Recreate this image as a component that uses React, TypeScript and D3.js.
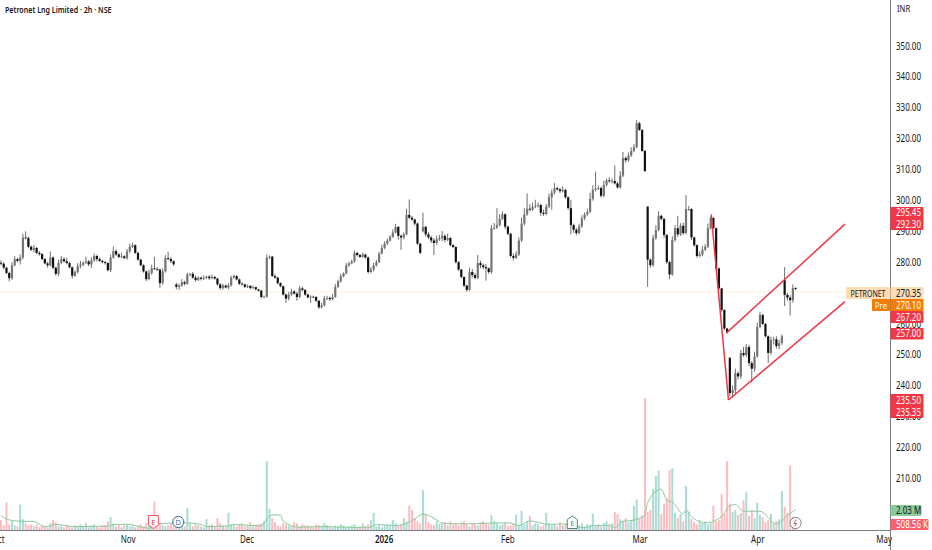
import React from "react";
import * as d3 from "d3";

const W = 932, H = 550, AX = 890, BASE = 530.5;

const closes = [
279.5,278.2,276.5,274.8,279,281,280.4,281.5,288,287.8,285,284,284.6,283,282.6,281,279.6,279,281.5,278.2,
276.2,279.8,281,280.3,279.7,278.3,275.6,276.8,278.7,279.2,279.8,280.2,279.3,280.6,282,281,280.4,280,279.7,277.4,
281.5,283.6,282.5,281.7,281.9,281.3,283.5,285,285.5,283,280.8,279,277,274.5,276.5,278,277.8,277.6,273.2,277,
281.3,281,280.3,279.3,272,272.4,273.5,273,276,276.2,275,274.2,275,274.6,274.9,275.3,274.8,275.2,274.7,272.8,
271.6,272.4,271.8,272.5,275,275.5,274.4,273,272.8,272,272.3,271.6,271.9,271.2,270.8,268.7,268.8,281.5,281.8,275.5,
275,273.2,272.2,269.5,268.2,269.5,270.5,269.8,268.7,271.5,271,269.5,268.6,268.8,268.7,267.5,265.4,266,268.2,268.4,
268,268.7,272,273.8,275.4,276.4,279,279.6,280.2,283,282.3,281.7,282.5,281.5,276.8,277.6,279,280,282.8,284.6,
286,287,288.2,289.6,291.4,288.5,288,289,295.3,294.4,293.8,292.5,286,283,291.4,289,288,287,286.2,287.4,
287.8,288.5,287.2,287.8,285.5,284.9,280,277.6,275.2,272.4,271,276.8,275.8,274.9,279.7,279,278.4,278,276.8,291,
291.2,292,294,295.5,291.5,289.2,282,281.4,282.5,287,292.5,295.5,297.3,297,297.9,298.2,298.5,296,295.6,298,
301,302.5,304,303.6,303,303.4,301,297.5,292,290.5,289.4,291.6,294.2,295.5,296.3,300.5,303.4,303.8,304,301.5,
305,306.5,306.2,306.3,305.5,304.2,308,313.7,313,314.5,316,317.2,325,322.8,316,309.5,280.8,279,287.8,290.4,
295,294,288.8,280,276,287.2,291,289,291.8,289.4,297.2,297.2,288,285.5,282,282.5,284,285,291,294.3,
291,278,271.5,264.5,258.5,257.2,237.6,238.6,244,243,250.6,249.9,252.5,247.3,245.5,249.5,259,262.9,260,256,
250.6,254.8,255,252.8,253.8,256,269.4,268.5,267.7,271.6,271.3];

const gapOpens: Record<number, number> = { 64: 272.8, 154: 290, 236: 298, 266: 249, 286: 274.2 };

const wickUp = [
.8,.5,.3,.4,1,1,.5,1,1.2,2,.5,.4,1,.3,.6,.4,.3,.5,2,.4,
.3,1,1,.6,1.2,.4,.3,.5,1,1.2,.4,1.6,.5,1,.8,.4,.6,.3,.4,.3,
1,1.5,.6,.4,1.2,.4,.8,1,.8,.3,.4,.3,.3,.2,1,1.2,3.7,.6,.3,1,
1,2,.7,.3,.5,.6,1,.5,.6,.3,.6,.7,.4,.3,.8,.3,.5,.8,.3,.2,
.4,.6,.4,.7,.6,.5,.3,.3,.6,.3,.5,.3,.5,.2,.2,.2,.4,1,.3,.2,
.6,.3,.3,.2,.3,.8,.9,.5,.6,.8,.6,.3,.3,.5,.4,.3,.2,.8,.9,.7,
.5,1,1,.5,.8,.3,.7,.6,.6,.8,.4,.3,.6,.2,.3,.8,.8,.7,.5,1,
.8,.6,.5,1,1,.3,.5,.6,2,5,.5,.3,.3,.2,4.6,.4,.8,.5,.8,1.2,
1,1.6,.5,1.4,.4,.3,.2,.3,.2,.2,.3,1.5,1,.6,2.6,.8,.5,1,.3,1,
1.5,5.5,1.5,1,.3,.3,.3,.8,1,1,2,2,5,1.5,1.4,2,.8,.4,1,.8,
1.2,1,1.6,.5,.5,1.2,.3,.3,2.6,.5,.5,.8,1,.6,1,2,1.5,5.5,.8,.5,
1.4,.6,1,.8,5,.5,1.5,2,.6,1,1.2,1,1,.5,.3,.3,0,.4,1,1.5,
1.5,.4,.3,.3,.5,1.2,1,4,.8,1,4.5,1,.3,.3,.3,1,1.2,.8,1.5,.6,
.3,.2,.2,.2,.3,.2,.3,1.5,1.5,.6,1,2,1,.8,.6,1.5,1.5,1,.4,.3,
.3,1,.8,1,1,.6,4.2,.6,.8,1.2,.3];

const wickDown = [
.6,.5,.4,1,.5,.4,.5,1.2,.6,.4,.5,.4,.8,.4,.5,.4,.3,.8,.4,.5,
.6,.8,.5,.4,.4,.3,1,.4,.5,.7,.5,.4,.6,1.2,.5,.8,.3,.4,.5,.4,
.6,.4,.5,.4,.4,.4,.5,.6,.4,.3,.3,.3,.4,.7,.4,.6,.3,.4,1.6,.5,
.4,.4,.6,.5,.8,1,.4,.6,.3,.5,.4,.5,.3,.5,.4,.3,.6,.3,.4,.4,
.5,.5,.3,.6,.4,.3,.3,.4,.3,.4,.4,.4,.3,.4,.4,.5,.3,.3,.5,.3,
.4,.4,.3,.3,1.4,.6,.4,.3,1.2,.3,.5,.4,.3,1.8,.3,.4,.6,.4,.3,.5,
.6,.4,.2,.3,.5,.3,.4,.5,.3,.4,.5,.3,.3,.4,.5,.4,.6,.4,.3,.3,
.4,.5,.4,.3,.3,1.2,4,.6,.3,.4,.4,.6,.4,.4,.4,.8,.6,.8,3.9,.6,
.5,1,.7,.4,.5,.4,.4,.5,.5,.5,.6,.3,.8,.5,.4,1,.7,4,.6,.5,
.6,.5,.4,.3,.8,.5,.5,.8,.4,.5,.4,.6,.5,.6,.4,.4,.5,1,.6,.4,
.5,4,.6,.5,.6,.4,.5,.5,3,1,.7,.4,.5,.6,.5,.4,.6,.5,.4,.6,
.5,.4,.5,.7,.4,.3,.4,.5,.8,.5,.4,.4,.3,.3,.3,.3,8.8,.8,.5,.6,
.4,.5,1,.6,1.5,.4,.6,.8,.5,.6,.4,.6,.8,.5,.6,.4,.6,.3,.4,.4,
.3,.6,.6,.5,.5,.3,1,1.5,1.5,1,.8,.6,.6,1,4.5,1,.5,.4,.3,.4,
3.3,.6,1.5,.8,1,.5,3.6,1,5,.8,.3];

const volumes = [
1,.5,2.7,.6,.9,.5,.4,2.5,1.1,.7,.5,.6,.4,.6,.3,.5,.4,.3,.7,1,
.8,.4,.5,.3,.5,.4,.3,.5,.4,.6,.4,.7,.3,.5,.6,.4,.3,.5,.5,.9,
1.3,.7,.4,.6,.3,.5,.6,.4,.5,.3,.4,.6,.4,.7,.5,.9,2.8,.6,.8,.5,
.4,.5,.7,.4,.6,.8,.5,.4,2.2,.7,.4,.6,.5,.4,.3,1.1,.5,.6,.4,1.2,
.7,.5,.4,1.7,.6,.5,.4,.6,.7,.4,.5,.8,.4,.5,.6,.7,.9,6.7,2.1,1.2,
.8,.5,.4,.7,.6,.5,.4,.8,.7,.4,.6,.5,.5,.4,.3,.6,.5,.4,.7,.5,
.4,.3,.5,.4,.6,.5,.3,.4,.5,.6,.3,.4,.7,.5,.6,1,1.7,.4,.5,.3,
.5,.6,.4,1,.7,.5,.6,1.2,.9,2.4,2,1.2,.9,.7,3.9,1.6,.8,.6,.5,.9,
.6,.7,.8,.5,.9,.6,.7,.5,.8,.9,.6,.4,.7,.6,.5,.8,.9,.7,.6,1.5,
.9,.7,.5,.6,.8,.4,.5,.7,1.5,.5,1.9,.6,.8,1.4,.5,.7,.6,.4,.5,1.7,
.7,.5,.6,.4,.8,.5,.7,.4,.9,.6,.3,.5,.7,.4,.6,.5,1.6,.5,.6,.4,
.7,.9,.6,.7,1.8,1.6,1.1,.9,1.2,.8,1,2.4,3,1.2,1.5,12.8,1.8,2,4,5.3,
5.8,1.6,2.6,3.1,5.8,6,1.7,1.2,1.6,.9,4.3,1.8,1.1,.8,.6,1,.7,.9,.6,.8,
2.4,.9,1,3.5,1.6,6.7,2.6,1.8,2,1.5,1.7,2.9,3.7,1.4,2,1.2,2.7,1.5,1.3,.8,
1,1.6,.7,.9,1.1,3.8,2.3,1.7,6.3,1.3,.51];

const maIndex = [0,3,7,12,16,20,27,39,41,46,54,58,61,68,73,75,83,85,95,97,99,102,103,109,117,134,137,143,147,151,154,159,161,169,178,185,189,193,200,205,213,216,222,224,227,230,234,235,236,241,243,245,249,250,252,257,263,266,268,271,277,283,287,290];
const maValues = [1.44,1.02,.9,.87,.35,.58,.38,.42,.58,.61,.22,.64,.7,.74,.58,.38,.45,.58,.45,1.12,1.5,1.5,.9,.32,.38,.26,.58,.48,.58,1.12,1.6,1.03,.71,.64,.71,.74,.48,.93,.58,.64,.26,.48,.51,.26,.9,.96,1.28,1.44,2.7,4,2.9,2.75,1.6,2,1.35,.74,1.35,2.4,2.5,1.86,1.86,.64,1.44,2.03];

const priceTicks = [210,220,230,240,250,260,270,280,290,300,310,320,330,340,350];
const monthLabels = ["Oct","Nov","Dec","2026","Feb","Mar","Apr","May"];
const monthIndex = [-1,46.4,89.8,139.8,185,233.2,276.2,322.3];
const fallLine = [{ i: 259.2, p: 295.45 }, { i: 265.5, p: 235.35 }];
const upperLine = [{ i: 264.7, p: 257 }, { i: 308, p: 292.3 }];
const lowerLine = [{ i: 265.5, p: 235.35 }, { i: 308, p: 267.2 }];

const FONT = "'Noto Sans', sans-serif";
const x = d3.scaleLinear().domain([0, 290]).range([1, 795.6]);
const y = d3.scaleLinear().domain([210, 350]).range([478.3, 46]);
const vy = d3.scaleLinear().domain([0, 12.8]).range([BASE, 398]);
const trend = d3.line<{ i: number; p: number }>().x(d => x(d.i)).y(d => y(d.p));
const maLine = d3.line<number>().x((_, k) => x(maIndex[k])).y(d => vy(d)).curve(d3.curveMonotoneX);

// Text in the reference is horizontally narrow, so each label is squeezed on x.
function Txt({ x: tx, y: ty, sx = 0.8, size = 10, fill = "#131722", anchor = "start", weight = 400, children }: any) {
  return (
    <text transform={`translate(${tx},${ty}) scale(${sx},1)`} fontSize={size} fill={fill} textAnchor={anchor} fontWeight={weight}>
      {children}
    </text>
  );
}

function AxisTag({ top, h, fill, text, color = "#fff", w = 33 }: any) {
  return (
    <g>
      <rect x={AX + 0.5} y={top} width={w} height={h} fill={fill} rx={1} />
      <Txt x={AX + 6} y={top + h / 2 + 3.6} fill={color}>{text}</Txt>
    </g>
  );
}

export default function App() {
  const opens = closes.map((c, i) => gapOpens[i] ?? (i ? closes[i - 1] : 279.8));
  return (
    <svg width={W} height={H} style={{ position: "absolute", left: 0, top: 0, background: "#fff", fontFamily: FONT }}>
      <Txt x={5} y={13} size={9.5} sx={0.75} weight={600}>Petronet Lng Limited · 2h · NSE</Txt>

      <line x1={0} x2={846} y1={y(270.35)} y2={y(270.35)} stroke="#fdeedd" strokeWidth={1} />

      {volumes.map((v, i) => (
        <rect key={i} x={x(i) - 1} width={2} y={vy(v)} height={BASE - vy(v)}
          fill={closes[i] >= opens[i] ? "#a9dcd4" : "#fcbcc0"} />
      ))}
      <path d={maLine(maValues) ?? ""} fill="none" stroke="#8ccb9b" strokeWidth={1} />

      {closes.map((c, i) => {
        const o = opens[i];
        const up = c >= o;
        const top = Math.max(o, c), bot = Math.min(o, c);
        return (
          <g key={i}>
            <line x1={x(i)} x2={x(i)} y1={y(top + wickUp[i])} y2={y(bot - wickDown[i])} stroke="#6f6f6f" strokeWidth={1} />
            <rect x={x(i) - 1.1} width={2.2} y={y(top)} height={Math.max(0.8, y(bot) - y(top))} fill={up ? "#757575" : "#111"} />
          </g>
        );
      })}

      {[fallLine, upperLine, lowerLine].map((l, k) => (
        <path key={k} d={trend(l) ?? ""} fill="none" stroke="#f23645" strokeWidth={1.5} />
      ))}

      <g transform={`translate(${x(55.6)},522)`}>
        <path d="M-5,-6.5H5V3L0,6.5L-5,3Z" fill="#fff" stroke="#f7525f" strokeWidth={1} />
        <text textAnchor="middle" y={3} fontSize={7.5} fill="#f23645">E</text>
      </g>
      <g transform={`translate(${x(64.7)},522)`}>
        <circle r={5.6} fill="#fff" stroke="#2f6f9f" strokeWidth={1} />
        <text textAnchor="middle" y={3} fontSize={7.5} fill="#2f6f9f">D</text>
      </g>
      <g transform={`translate(${x(208.5)},522.5)`}>
        <path d="M-5,-3L0,-6.5L5,-3V6H-5Z" fill="#fff" stroke="#3b8f85" strokeWidth={1} />
        <text textAnchor="middle" y={3.5} fontSize={7.5} fill="#3b8f85">E</text>
      </g>
      <g transform={`translate(${x(290)},523)`}>
        <circle r={5.6} fill="#fff" stroke="#777" strokeWidth={0.9} />
        <path d="M1,-3.5L-1.8,0.5H1L-1,3.5" fill="none" stroke="#9a5a64" strokeWidth={0.9} />
      </g>

      <rect x={AX} y={0} width={W - AX} height={H} fill="#fff" />
      <rect x={0} y={BASE} width={AX} height={H - BASE} fill="#fff" />
      <line x1={AX + 0.5} x2={AX + 0.5} y1={0} y2={H} stroke="#787b86" />
      <line x1={0} x2={AX} y1={BASE} y2={BASE} stroke="#787b86" />

      <Txt x={897} y={12} size={9} sx={0.85}>INR</Txt>
      {priceTicks.map(t => (
        <Txt key={t} x={AX + 6} y={y(t) + 3.6}>{t.toFixed(2)}</Txt>
      ))}
      {monthLabels.map((m, k) => (
        <Txt key={m} x={x(monthIndex[k])} y={543} anchor="middle" weight={m === "2026" ? 600 : 400}>{m}</Txt>
      ))}

      <rect x={AX + 0.5} y={207} width={33} height={23} fill="#f23645" rx={1} />
      <Txt x={AX + 6} y={216} fill="#fff">295.45</Txt>
      <Txt x={AX + 6} y={228} fill="#fff">292.30</Txt>
      <AxisTag top={311} h={12} fill="#f23645" text="267.20" />
      <AxisTag top={287} h={12} fill="#fcdcb4" text="270.35" color="#131722" />
      <AxisTag top={299} h={12} fill="#f57c00" text="270.10" />
      <AxisTag top={328} h={11.5} fill="#f23645" text="257.00" />
      <rect x={AX + 0.5} y={394} width={33} height={24} fill="#f23645" rx={1} />
      <Txt x={AX + 6} y={403.6} fill="#fff">235.50</Txt>
      <Txt x={AX + 6} y={415.6} fill="#fff">235.35</Txt>
      <AxisTag top={505} h={11} fill="#8bcb98" text="2.03 M" color="#131722" w={31} />
      <AxisTag top={519} h={11} fill="#f7626d" text="508.56 K" w={38} />

      <rect x={846} y={287} width={44} height={12} fill="#fcdcb4" rx={1} />
      <Txt x={868} y={296.5} anchor="middle" size={9.5} sx={0.74}>PETRONET</Txt>
      <rect x={872} y={299} width={18} height={12} fill="#f57c00" rx={1} />
      <Txt x={881} y={308.5} anchor="middle" size={9.5} sx={0.85} fill="#fff">Pre</Txt>
    </svg>
  );
}
